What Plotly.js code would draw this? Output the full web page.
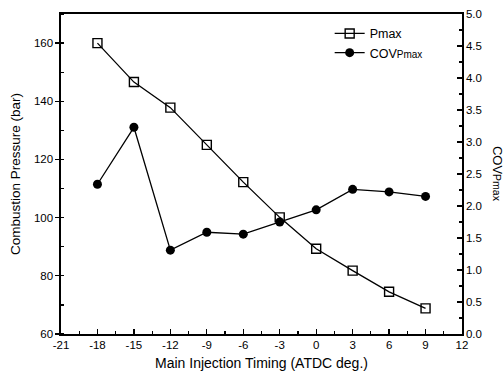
<!DOCTYPE html>
<html>
<head>
<meta charset="utf-8">
<script src="https://cdn.plot.ly/plotly-3.0.1.min.js"></script>
<style>html,body{margin:0;padding:0;background:#fff;}#chart{width:504px;height:381px;}</style>
</head>
<body>
<div id="chart"></div>
<script>
const timing = [-18, -15, -12, -9, -6, -3, 0, 3, 6, 9];
const pmax = [160, 146.6, 137.8, 125, 112.2, 100.1, 89.3, 81.8, 74.5, 68.8];
const covPmax = [2.34, 3.23, 1.31, 1.59, 1.56, 1.75, 1.94, 2.26, 2.22, 2.15];
const xTicks = [-21, -18, -15, -12, -9, -6, -3, 0, 3, 6, 9, 12];
const yTicks = [60, 80, 100, 120, 140, 160];
const y2Ticks = [0, 0.5, 1, 1.5, 2, 2.5, 3, 3.5, 4, 4.5, 5];

const font = {family: 'Liberation Sans, Arial, sans-serif', color: '#000'};

const traces = [
  {x: timing, y: pmax, name: 'Pmax', mode: 'lines+markers', yaxis: 'y',
   line: {color: '#000', width: 1.3},
   marker: {symbol: 'square-open', size: 9, color: '#000', line: {width: 1.4}}},
  {x: timing, y: covPmax, name: 'COV<span style="font-size:10px">Pmax</span>', mode: 'lines+markers', yaxis: 'y2',
   line: {color: '#000', width: 1.3},
   marker: {symbol: 'circle', size: 9, color: '#000'}}
];

const layout = {
  width: 504, height: 381,
  margin: {l: 61, r: 42, t: 14, b: 47},
  paper_bgcolor: '#fff', plot_bgcolor: '#fff',
  font: Object.assign({size: 11.5}, font),
  showlegend: true,
  legend: {x: 0.67, y: 0.985, xanchor: 'left', yanchor: 'top', bgcolor: 'rgba(0,0,0,0)',
           font: Object.assign({size: 12.5}, font), tracegroupgap: 0, itemwidth: 30},
  xaxis: {range: [-21, 12], tickvals: xTicks, ticktext: xTicks.map(String),
          ticks: 'inside', ticklen: 5, tickwidth: 1.2, tickcolor: '#000',
          minor: {dtick: 1.5, ticks: 'inside', ticklen: 3, tickcolor: '#000'},
          showline: true, linecolor: '#000', linewidth: 1.6, mirror: true,
          showgrid: false, zeroline: false,
          tickfont: Object.assign({size: 11.5}, font),
          title: {text: 'Main Injection Timing (ATDC deg.)', font: Object.assign({size: 14}, font), standoff: 8}},
  yaxis: {range: [60, 170], tickvals: yTicks, ticktext: yTicks.map(String),
          ticks: 'outside', ticklen: 4, tickwidth: 1.2, tickcolor: '#000',
          minor: {dtick: 10, ticks: 'inside', ticklen: 3, tickcolor: '#000'},
          showline: true, linecolor: '#000', linewidth: 1.6, mirror: true,
          showgrid: false, zeroline: false,
          tickfont: Object.assign({size: 11.5}, font),
          title: {text: 'Combustion Pressure (bar)', font: Object.assign({size: 13.5}, font), standoff: 10}},
  yaxis2: {overlaying: 'y', side: 'right', range: [0, 5],
           tickvals: y2Ticks, ticktext: y2Ticks.map(v => v.toFixed(1)),
           ticks: 'inside', ticklen: 5, tickwidth: 1.2, tickcolor: '#000',
           minor: {dtick: 0.25, ticks: 'inside', ticklen: 3, tickcolor: '#000'},
           showline: true, linecolor: '#000', linewidth: 1.6,
           showgrid: false, zeroline: false,
           tickfont: Object.assign({size: 11.5}, font)},
  annotations: [
    {text: 'COV<span style="font-size:10.5px">Pmax</span>', xref: 'paper', yref: 'paper',
     x: 1.09, y: 0.5, xanchor: 'center', yanchor: 'middle', textangle: 90,
     showarrow: false, font: Object.assign({size: 13}, font)}
  ]
};

Plotly.newPlot('chart', traces, layout, {displayModeBar: false, staticPlot: true});
</script>
</body>
</html>
